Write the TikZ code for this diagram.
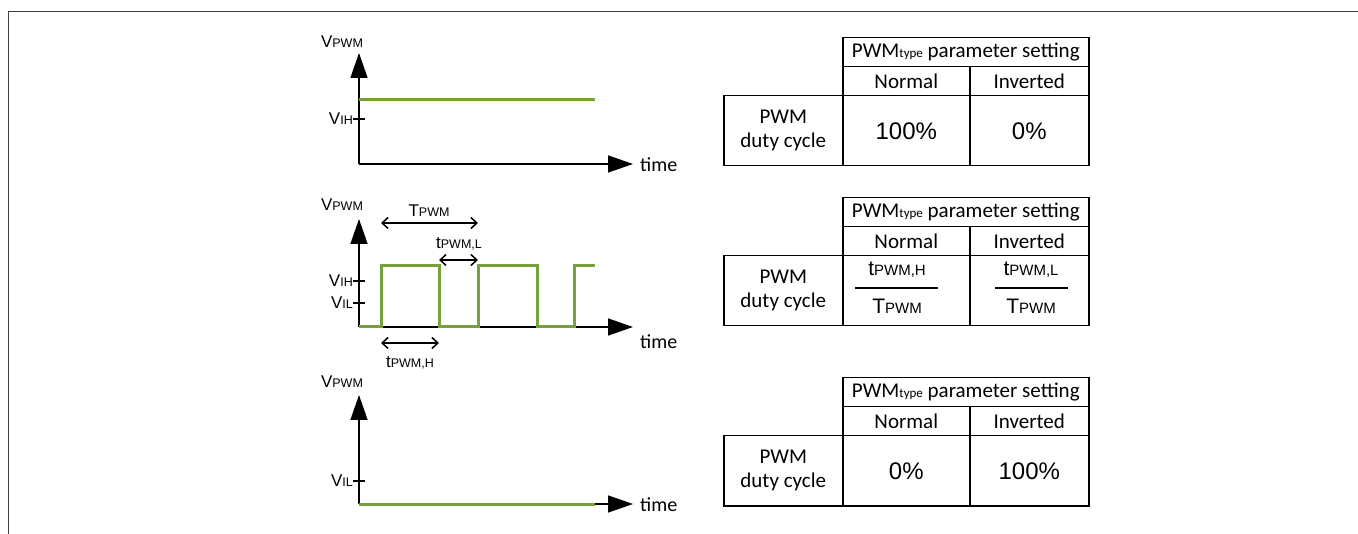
\documentclass[tikz,border=0pt]{standalone}
\usepackage{fontspec}
\setmainfont{Carlito}
\newfontfamily\arialfont{Liberation Sans}
\usepackage{xcolor}
\usetikzlibrary{arrows.meta}
\definecolor{pwmgreen}{RGB}{119,161,58}
\newcommand{\sig}[2]{{\arialfont\fontsize{17}{20}\selectfont #1\fontsize{12.5}{14}\selectfont #2}}
\newcommand{\tsig}[2]{{\arialfont\fontsize{21}{24}\selectfont #1\fontsize{15}{18}\selectfont #2}}
\tikzset{
  axis/.style={line width=1.5pt,-{Triangle[length=25pt,width=17pt]}},
  wave/.style={pwmgreen,line width=3pt},
  tick/.style={line width=1.2pt},
  dim/.style={line width=1.5pt,{Straight Barb[length=6pt,width=11pt]}-{Straight Barb[length=6pt,width=11pt]}},
  cell/.style={draw,line width=1.5pt,inner sep=0pt,anchor=north west,font=\fontsize{21}{24}\selectfont},
  val/.style={cell,font=\arialfont\fontsize{24}{28}\selectfont},
  timelbl/.style={anchor=west,inner sep=0pt,font=\fontsize{20}{24}\selectfont}
}
\begin{document}
\begin{tikzpicture}[x=1pt,y=-1pt]
\useasboundingbox (0,0) rectangle (1358,534);
\draw[line width=1.2pt,black!75] (8.5,534) -- (8.5,11.5) -- (1358,11.5);

% always high
\coordinate (o1) at (359,164);
\coordinate (y1) at (359,53);
\coordinate (x1) at (633,164);
\draw[axis] (o1) -- (y1);
\draw[axis] (o1) -- (x1);
\draw[tick] (353,119) -- (365,119);
\node[anchor=east,inner sep=0pt] (vih1) at (353,119) {\sig{V}{IH}};
\node (vpwm1) at (342,42) {\sig{V}{PWM}};
\node[timelbl] (time1) at (640,165) {time};
\draw[wave] (359,100) -- (595,100);

% toggling
\coordinate (o2) at (359,327);
\coordinate (y2) at (359,219);
\coordinate (x2) at (633,327);
\draw[axis] (o2) -- (y2);
\draw[axis] (o2) -- (x2);
\draw[tick] (353,281) -- (365,281);
\draw[tick] (353,303) -- (365,303);
\node[anchor=east,inner sep=0pt] (vih2) at (353,281) {\sig{V}{IH}};
\node[anchor=east,inner sep=0pt] (vil2) at (353,303) {\sig{V}{IL}};
\node (vpwm2) at (342,205) {\sig{V}{PWM}};
\node[timelbl] (time2) at (640,342) {time};
\draw[wave] (359,327) -- (381,327) -- (381,266) -- (439,266) -- (439,327) -- (478,327)
  -- (478,266) -- (537,266) -- (537,327) -- (574,327) -- (574,266) -- (595,266);
\coordinate (pa) at (381,223);
\coordinate (pb) at (478,223);
\coordinate (la) at (439,260);
\coordinate (lb) at (478,260);
\coordinate (ha) at (381,343);
\coordinate (hb) at (439,343);
\draw[dim] (pa) -- (pb);
\draw[dim] (la) -- (lb);
\draw[dim] (ha) -- (hb);
\node (tper) at (429,211) {\sig{T}{PWM}};
\node (tlow) at (459,244) {\sig{t}{PWM,L}};
\node (thigh) at (410,363) {\sig{t}{PWM,H}};

% always low
\coordinate (o3) at (359,504);
\coordinate (y3) at (359,395);
\coordinate (x3) at (633,504);
\draw[axis] (o3) -- (y3);
\draw[axis] (o3) -- (x3);
\draw[tick] (353,481) -- (365,481);
\node[anchor=east,inner sep=0pt] (vil3) at (353,481) {\sig{V}{IL}};
\node (vpwm3) at (342,382) {\sig{V}{PWM}};
\node[timelbl] (time3) at (640,505) {time};
\draw[wave] (359,504) -- (595,504);

% tables
\node[cell,minimum width=246pt,minimum height=29pt] (hd1) at (842,37) {PWM{\fontsize{13}{13}\selectfont type} parameter setting};
\node[cell,minimum width=127pt,minimum height=29pt] (nm1) at (842,66) {Normal};
\node[cell,minimum width=119pt,minimum height=29pt] (iv1) at (969,66) {Inverted};
\node[cell,minimum width=119pt,minimum height=70pt,align=center] (dc1) at (723,95) {PWM\\duty cycle};
\node[val,minimum width=127pt,minimum height=70pt] (vn1) at (842,95) {100\%};
\node[val,minimum width=119pt,minimum height=70pt] (vi1) at (969,95) {0\%};

\node[cell,minimum width=246pt,minimum height=29pt] (hd2) at (842,197) {PWM{\fontsize{13}{13}\selectfont type} parameter setting};
\node[cell,minimum width=127pt,minimum height=29pt] (nm2) at (842,226) {Normal};
\node[cell,minimum width=119pt,minimum height=29pt] (iv2) at (969,226) {Inverted};
\node[cell,minimum width=119pt,minimum height=70pt,align=center] (dc2) at (723,255) {PWM\\duty cycle};
\node[cell,minimum width=127pt,minimum height=70pt] (vn2) at (842,255) {};
\node[cell,minimum width=119pt,minimum height=70pt] (vi2) at (969,255) {};
\node (nh2) at (897,270) {\tsig{t}{PWM,H}};
\node (dh2) at (897,306) {\tsig{T}{PWM}};
\draw[line width=1.5pt] (855,288) -- (938,288);
\node (nl2) at (1031,270) {\tsig{t}{PWM,L}};
\node (dl2) at (1031,306) {\tsig{T}{PWM}};
\draw[line width=1.5pt] (995,288) -- (1068,288);

\node[cell,minimum width=246pt,minimum height=29pt] (hd3) at (842,377) {PWM{\fontsize{13}{13}\selectfont type} parameter setting};
\node[cell,minimum width=127pt,minimum height=29pt] (nm3) at (842,406) {Normal};
\node[cell,minimum width=119pt,minimum height=29pt] (iv3) at (969,406) {Inverted};
\node[cell,minimum width=119pt,minimum height=70pt,align=center] (dc3) at (723,435) {PWM\\duty cycle};
\node[val,minimum width=127pt,minimum height=70pt] (vn3) at (842,435) {0\%};
\node[val,minimum width=119pt,minimum height=70pt] (vi3) at (969,435) {100\%};
\end{tikzpicture}
\end{document}
